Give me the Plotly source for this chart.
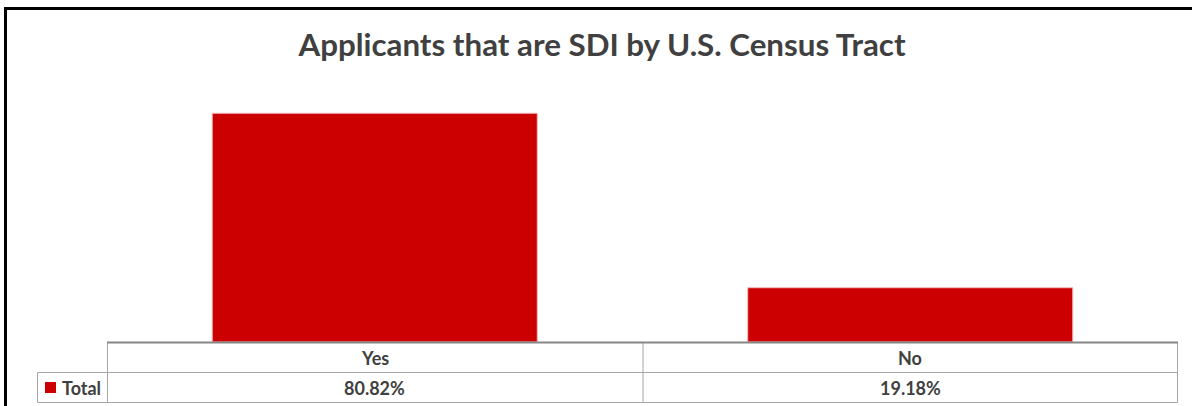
import plotly.graph_objects as go

# ---- data ----
categories = ["Yes", "No"]
values = [80.82, 19.18]
series_name = "Total"
title_text = "Applicants that are SDI by U.S. Census Tract"

# ---- layout geometry (pixels) ----
W, H = 1192, 406
L, R, T, B = 107, 1178, 59, 342  # plot area edges

def px(x):
    return (x - L) / (R - L)

def py(y):
    return (B - y) / (B - T)

BAR = "#CC0000"
TXT = "#404040"
GRID = "#A6A6A6"
FONT = "Lato"

fig = go.Figure()
fig.add_trace(go.Bar(
    x=categories, y=values, name=series_name,
    marker=dict(color=BAR, line=dict(color="#F2B8B8", width=1)),
    hoverinfo="x+y",
))

shapes = []
# outer border
shapes.append(dict(type="rect", xref="paper", yref="paper",
                   x0=px(5.5), x1=px(1210), y0=py(8.5), y1=py(430),
                   line=dict(color="black", width=3), fillcolor="rgba(0,0,0,0)"))
# table lines
def hline(y, x0, x1, color=GRID, w=1):
    shapes.append(dict(type="line", xref="paper", yref="paper",
                       x0=px(x0), x1=px(x1), y0=py(y), y1=py(y),
                       line=dict(color=color, width=w)))

def vline(x, y0, y1, color=GRID, w=1):
    shapes.append(dict(type="line", xref="paper", yref="paper",
                       x0=px(x), x1=px(x), y0=py(y0), y1=py(y1),
                       line=dict(color=color, width=w)))

hline(372.5, 37.5, 1177.5)
hline(402.5, 37.5, 1177.5)
vline(37.5, 372.5, 402.5)
vline(107.5, 342, 402.5)
vline(643, 342, 402.5)
vline(1177.5, 342, 402.5)
hline(342.5, 107, 1178, color="#868686", w=2)
# legend key
shapes.append(dict(type="rect", xref="paper", yref="paper",
                   x0=px(45), x1=px(56), y0=py(382), y1=py(393),
                   line=dict(width=0), fillcolor=BAR))

annotations = []
n = len(categories)
for i, (c, v) in enumerate(zip(categories, values)):
    xc = (i + 0.5) / n
    annotations.append(dict(xref="paper", yref="paper", x=xc, y=py(357.5),
                            text=f"<b>{c}</b>", showarrow=False,
                            font=dict(family=FONT, size=18, color=TXT),
                            xanchor="center", yanchor="middle"))
    annotations.append(dict(xref="paper", yref="paper", x=xc, y=py(388),
                            text=f"<b>{v:.2f}%</b>", showarrow=False,
                            font=dict(family=FONT, size=18, color=TXT),
                            xanchor="center", yanchor="middle"))
annotations.append(dict(xref="paper", yref="paper", x=px(60), y=py(388),
                        text=f"<b>{series_name}</b>", showarrow=False,
                        font=dict(family=FONT, size=18, color=TXT),
                        xanchor="left", yanchor="middle"))

fig.update_layout(
    width=W, height=H,
    margin=dict(l=L, r=W - R, t=T, b=H - B, pad=0),
    paper_bgcolor="white", plot_bgcolor="white",
    showlegend=False,
    bargap=0.393,
    title=dict(text=f"<b>{title_text}</b>", x=602 / W, xanchor="center",
               y=1 - 45 / H, yanchor="middle",
               font=dict(family=FONT, size=31.3, color=TXT)),
    xaxis=dict(showticklabels=False, showgrid=False, zeroline=False,
               showline=False, ticks=""),
    yaxis=dict(range=[0, 100], showticklabels=False, showgrid=False,
               zeroline=False, showline=False, ticks=""),
    shapes=shapes,
    annotations=annotations,
)

fig.write_html("out.html")
